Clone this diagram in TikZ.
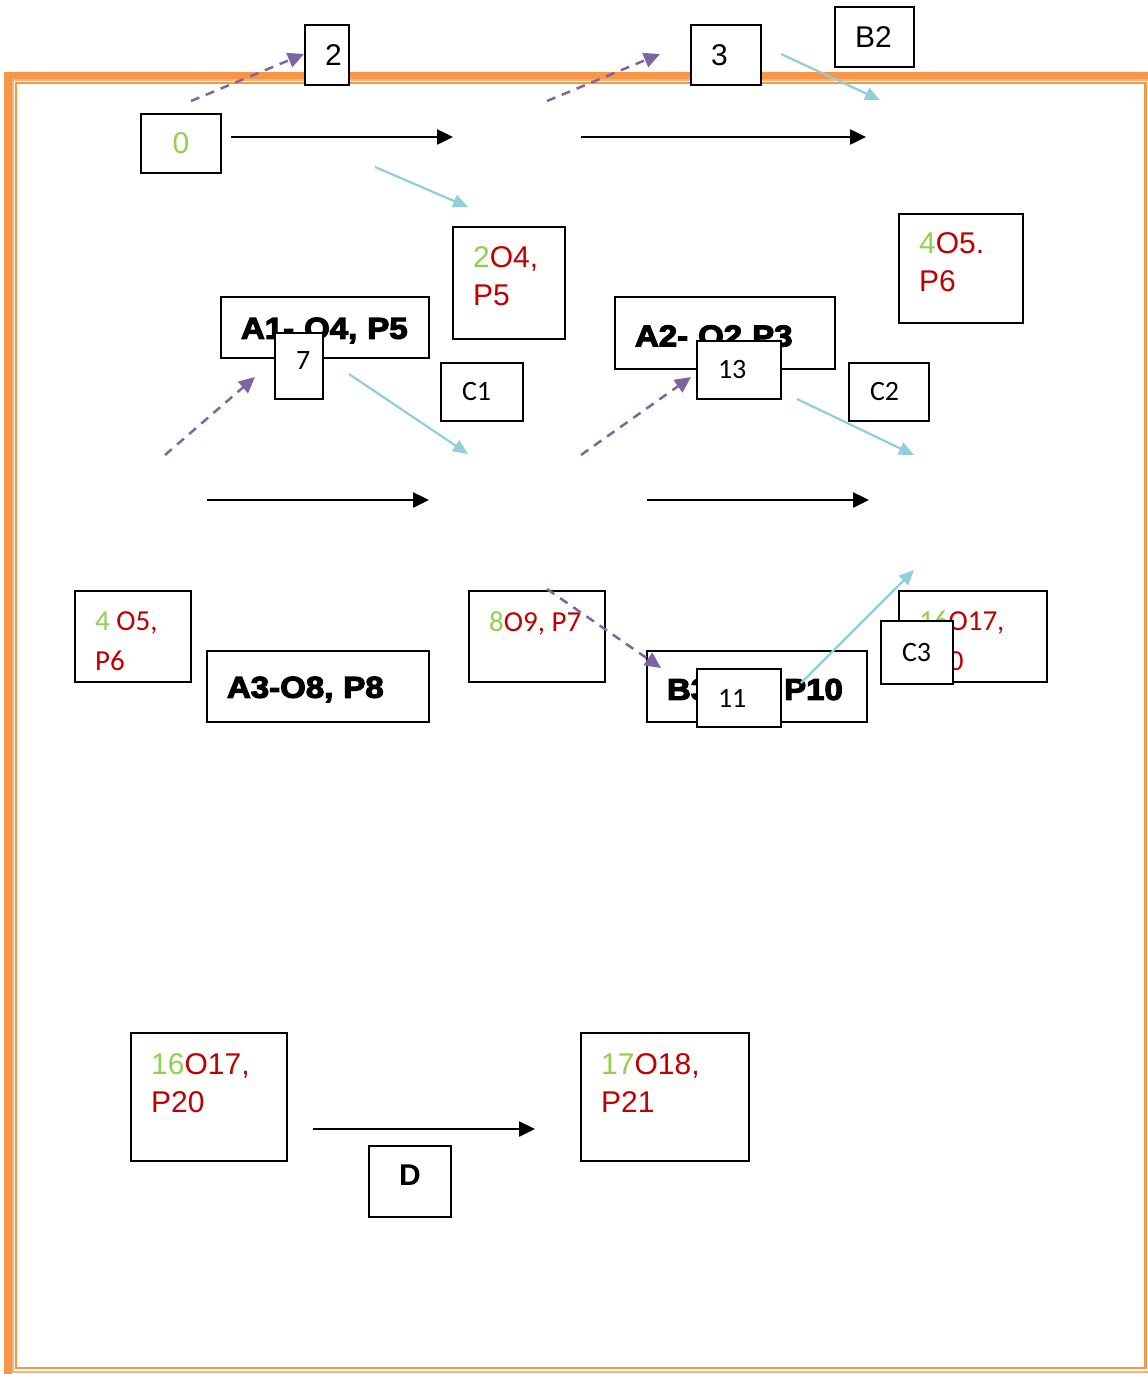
\documentclass[tikz,border=0pt]{standalone}
\usepackage{fontspec}
\setmainfont{Liberation Sans}
\newfontfamily\calfont{Carlito}
\newfontfamily\heavyfont[FakeStretch=1.1,FakeBold=4]{Liberation Sans Bold}
\usetikzlibrary{arrows.meta, positioning}
\definecolor{frameorange}{HTML}{F79646}
\definecolor{framelight}{HTML}{FAB27A}
\definecolor{numgreen}{HTML}{92D050}
\definecolor{opred}{HTML}{C00000}
\definecolor{linkblue}{HTML}{92CDDC}
\definecolor{linkpurple}{HTML}{8064A2}
\tikzset{%
	box/.style={draw, rectangle, line width=2pt, fill=white, inner sep=0pt},
	num/.style={box, font=\fontsize{30}{36}\selectfont},
	numl/.style={num, inner xsep=20pt, align=left},
	tag/.style={box, inner xsep=21pt, align=left, font=\calfont\fontsize{28}{34}\selectfont},
	headbox/.style={box, inner xsep=20pt, align=left, text height=27pt,%
		font=\heavyfont\fontsize{30}{36}\selectfont},
	optext/.style={inner sep=0pt, align=left, anchor=north west, text=opred,%
		font=\fontsize{30}{38}\selectfont},
	optextc/.style={optext, font=\calfont\fontsize{29}{40}\selectfont},
	flow/.style={-{Triangle[length=16pt,width=15pt]}, line width=2.5pt},
	link/.style={-{Triangle[length=15pt,width=13pt]}, line width=2.2pt, color=linkblue},
	jump/.style={-{Triangle[length=16pt,width=15pt]}, line width=2.5pt, color=linkpurple,%
		dash pattern=on 9pt off 7pt}
}

\begin{document}
\begin{tikzpicture}[x=1pt, y=-1pt]
	\useasboundingbox (0,0) rectangle (1148,1374);
	% page border
	\draw[frameorange, line width=8pt] (8,1390) -- (8,76) -- (1170,76);
	\draw[framelight, line width=2pt] (13,80) rectangle (1170,1372);
	\draw[frameorange, line width=2.5pt] (16,83) rectangle (1145.5,1368);

	% top row
	\node[num, minimum width=80pt, minimum height=59pt]         (n0)  at (181,143.5) {\textcolor{numgreen}{0}};
	\node[numl, text width=4pt, minimum height=60pt]             (n2)  at (327,55)    {2};
	\node[numl, text width=30pt, minimum height=60pt]            (n3)  at (726,55)    {3};
	\node[numl, text width=39pt, minimum height=60pt]            (nB2) at (874.5,37)  {B2};
	\node[box, minimum width=112pt, minimum height=112pt] (s2) at (509,283)   {};
	\node[optext] (s2t) at (473,246) {\textcolor{numgreen}{2}O4,\\P5};
	\node[box, minimum width=124pt, minimum height=109pt] (s4) at (961,268.5) {};
	\node[optext] (s4t) at (919,232) {\textcolor{numgreen}{4}O5.\\P6};

	% middle row
	\node[headbox, text width=168pt, minimum height=61pt] (hA1) at (325,327.5) {A1- O4, P5};
	\node[tag, text width=6pt, minimum height=66pt, text depth=10pt] (c7) at (299,366) {7};
	\node[tag, text width=40pt, minimum height=58pt]      (c1)  at (482,392)   {C1};
	\node[headbox, text width=180pt, minimum height=72pt] (hA2) at (725,333)   {A2- O2 P3};
	\node[tag, text width=42pt, minimum height=58pt]      (c13) at (739,370)   {13};
	\node[tag, text width=38pt, minimum height=58pt]      (c2)  at (889,392)   {C2};

	% lower row
	\node[box, minimum width=116pt, minimum height=91pt] (s4l) at (133,636.5) {};
	\node[optextc] (s4lt) at (95,611) {\textcolor{numgreen}{4} O5,\\P6};
	\node[headbox, text width=182pt, minimum height=71pt] (hA3) at (318,686.5) {A3-O8, P8};
	\node[box, minimum width=136pt, minimum height=91pt] (s8) at (537,636.5) {};
	\node[optextc] (s8t) at (489,611) {\textcolor{numgreen}{8}O9, P7};
	\node[headbox, text width=180pt, minimum height=71pt] (hB3) at (757,686.5) {B3\hspace{75pt}P10};
	\node[tag, text width=42pt, minimum height=58pt]      (c11) at (739,698)   {11};
	\node[box, minimum width=148pt, minimum height=91pt] (s16r) at (973,636.5) {};
	\node[optextc] (s16rt) at (919,611) {\textcolor{numgreen}{16}O17,\\P20};
	\node[tag, text width=30pt, minimum height=63pt]      (c3)  at (917,652.5) {C3};

	% bottom row
	\node[box, minimum width=156pt, minimum height=128pt] (s16) at (209,1097) {};
	\node[optext] (s16t) at (151,1053) {\textcolor{numgreen}{16}O17,\\P20};
	\node[box, minimum width=168pt, minimum height=128pt] (s17) at (665,1097) {};
	\node[optext] (s17t) at (601,1053) {\textcolor{numgreen}{17}O18,\\P21};
	\node[num, font=\bfseries\fontsize{30}{36}\selectfont, text depth=12pt,%
		minimum width=82pt, minimum height=71pt] (nD) at (410,1181.5) {D};

	% free ends of the connectors
	\coordinate (f1a) at (231,137);  \coordinate (f1b) at (453,137);
	\coordinate (f2a) at (581,137);  \coordinate (f2b) at (866,137);
	\coordinate (f3a) at (207,500);  \coordinate (f3b) at (429,500);
	\coordinate (f4a) at (647,500);  \coordinate (f4b) at (869,500);
	\coordinate (f5a) at (313,1129); \coordinate (f5b) at (535,1129);
	\coordinate (j1a) at (191,101);  \coordinate (j1b) at (304,54);
	\coordinate (j2a) at (547,101);  \coordinate (j2b) at (660,54);
	\coordinate (j3a) at (165,455);  \coordinate (j3b) at (255,377);
	\coordinate (j4a) at (581,455);  \coordinate (j4b) at (691,377);
	\coordinate (j5a) at (547,589);  \coordinate (j5b) at (661,668);
	\coordinate (l1a) at (375,167);  \coordinate (l1b) at (468,207);
	\coordinate (l2a) at (781,54);   \coordinate (l2b) at (880,100);
	\coordinate (l3a) at (349,374);  \coordinate (l3b) at (468,454);
	\coordinate (l4a) at (797,399);  \coordinate (l4b) at (914,455);
	\coordinate (l5a) at (801,683);  \coordinate (l5b) at (914,570);

	\draw[flow] (f1a) -- (f1b);
	\draw[flow] (f2a) -- (f2b);
	\draw[flow] (f3a) -- (f3b);
	\draw[flow] (f4a) -- (f4b);
	\draw[flow] (f5a) -- (f5b);
	\draw[jump] (j1a) -- (j1b);
	\draw[jump] (j2a) -- (j2b);
	\draw[jump] (j3a) -- (j3b);
	\draw[jump] (j4a) -- (j4b);
	\draw[jump] (j5a) -- (j5b);
	\draw[link] (l1a) -- (l1b);
	\draw[link] (l2a) -- (l2b);
	\draw[link] (l3a) -- (l3b);
	\draw[link] (l4a) -- (l4b);
	\draw[link] (l5a) -- (l5b);
\end{tikzpicture}
\end{document}
